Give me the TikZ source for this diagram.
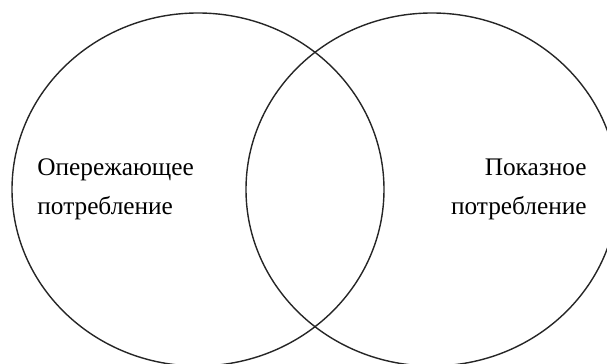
\documentclass[tikz,border=0pt]{standalone}
\usepackage{fontspec}
\setmainfont{Liberation Serif}
\usetikzlibrary{shapes.geometric}

\begin{document}
\begin{tikzpicture}[
    x=1pt, y=1pt,
    set/.style={draw=black!85, ellipse, line width=0.7pt, inner sep=0pt,
        minimum width=186pt, minimum height=176.5pt},
    lbl/.style={font=\fontsize{12.65}{19.5}\selectfont, inner sep=0pt}
]
    \useasboundingbox (0,0) rectangle (303.5,182);

    % Sets
    \node[set] (lset) at (99,87.25) {};
    \node[set] (rset) at (216,87.25) {};

    % Labels
    \node[lbl, anchor=base west, align=left] (ltext) at (18.5,74.5)
        {Опережающее\\потребление};
    \node[lbl, anchor=base east, align=right] (rtext) at (293.5,74.5)
        {Показное\\потребление};
\end{tikzpicture}
\end{document}
